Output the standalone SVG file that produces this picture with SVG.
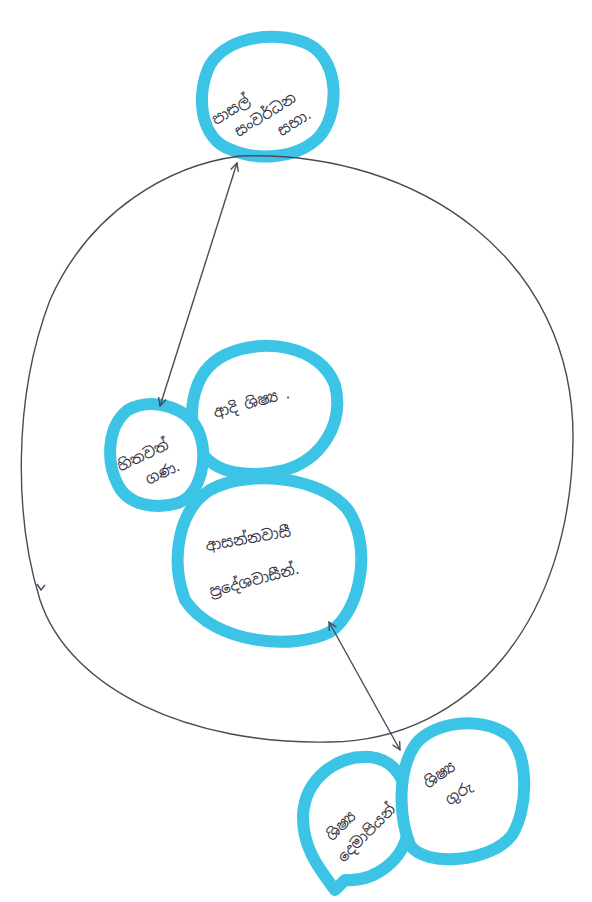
<svg xmlns="http://www.w3.org/2000/svg" width="592" height="902" viewBox="0 0 592 902">
<style>
.blob{fill:#ffffff;stroke:#3cc4e6;stroke-width:12;stroke-linejoin:round}
.conn{fill:none;stroke:#4a4a5a;stroke-width:1.4}
.t{font-family:"Noto Sans Sinhala","Noto Sans","DejaVu Sans",sans-serif;font-size:15px;fill:#333344}
</style>
<defs>
<marker id="ah" viewBox="0 0 10 10" refX="9" refY="5" markerWidth="10" markerHeight="10" orient="auto-start-reverse" markerUnits="userSpaceOnUse">
<path d="M1,1 L9,5 L1,9" fill="none" stroke="#4a4a5a" stroke-width="1.4"/>
</marker>
</defs>
<rect width="592" height="902" fill="#ffffff"/>
<g id="node-top">
<path class="blob" d="M232,150 C200,140 195,95 210,65 C228,35 280,30 310,45 C340,62 340,115 318,138 C295,160 255,160 232,150 Z"/>
<g transform="rotate(-32 262 105)">
<text class="t" x="212" y="98">පාසල්</text>
<text class="t" x="225" y="120">සංවර්ධන</text>
<text class="t" x="262" y="142">සභා.</text>
</g>
</g>
<g id="node-mid-right">
<path class="blob" d="M200,450 C185,420 190,372 225,355 C262,337 320,345 335,385 C345,425 320,460 285,470 C250,478 215,475 200,450 Z"/>
<text class="t" transform="rotate(-15 262 400)" x="212" y="405">ආදි ශිෂ්‍ය .</text>
</g>
<g id="node-mid-left">
<path class="blob" d="M118,485 C105,460 108,425 128,410 C150,398 185,405 198,430 C210,458 200,495 178,503 C155,510 128,505 118,485 Z"/>
<g transform="rotate(-25 150 460)">
<text class="t" x="118" y="458">හිතවත්</text>
<text class="t" x="138" y="482">ගණ.</text>
</g>
</g>
<g id="node-mid-bottom">
<path class="blob" d="M185,600 C170,560 178,510 210,490 C245,470 320,475 348,510 C372,545 362,610 330,632 C295,650 215,645 185,600 Z"/>
<text class="t" transform="rotate(-10 240 540)" x="205" y="545">ආසන්නවාසී</text>
<text class="t" transform="rotate(-15 255 580)" x="208" y="585">ප්‍රදේශවාසීන්.</text>
</g>
<g id="node-bottom-left">
<path class="blob" d="M335,890 C320,870 302,848 303,815 C305,780 335,755 370,757 C400,760 412,790 408,830 C404,860 375,882 345,880 Z"/>
<g transform="rotate(-45 355 822)">
<text class="t" x="325" y="820">ශිෂ්‍ය</text>
<text class="t" x="318" y="843">දෙමාපියන්</text>
</g>
</g>
<g id="node-bottom-right">
<path class="blob" d="M410,845 C398,815 398,770 415,745 C432,722 480,715 508,735 C530,755 528,810 512,835 C492,862 425,868 410,845 Z"/>
<g transform="rotate(-35 455 780)">
<text class="t" x="428" y="772">ශිෂ්‍ය</text>
<text class="t" x="436" y="798">ගුරු</text>
</g>
</g>
<g id="connectors">
<path class="conn" d="M240,156 C420,150 575,260 573,440 C571,620 470,740 330,742 C190,745 70,690 40,600 C15,520 12,400 50,300 C90,210 170,165 240,156 Z"/>
<path class="conn" d="M37,584 L41,590 L45,585"/>
<line class="conn" x1="237" y1="163" x2="160" y2="406" marker-start="url(#ah)" marker-end="url(#ah)"/>
<line class="conn" x1="329" y1="622" x2="400" y2="750" marker-start="url(#ah)" marker-end="url(#ah)"/>
</g>
</svg>
